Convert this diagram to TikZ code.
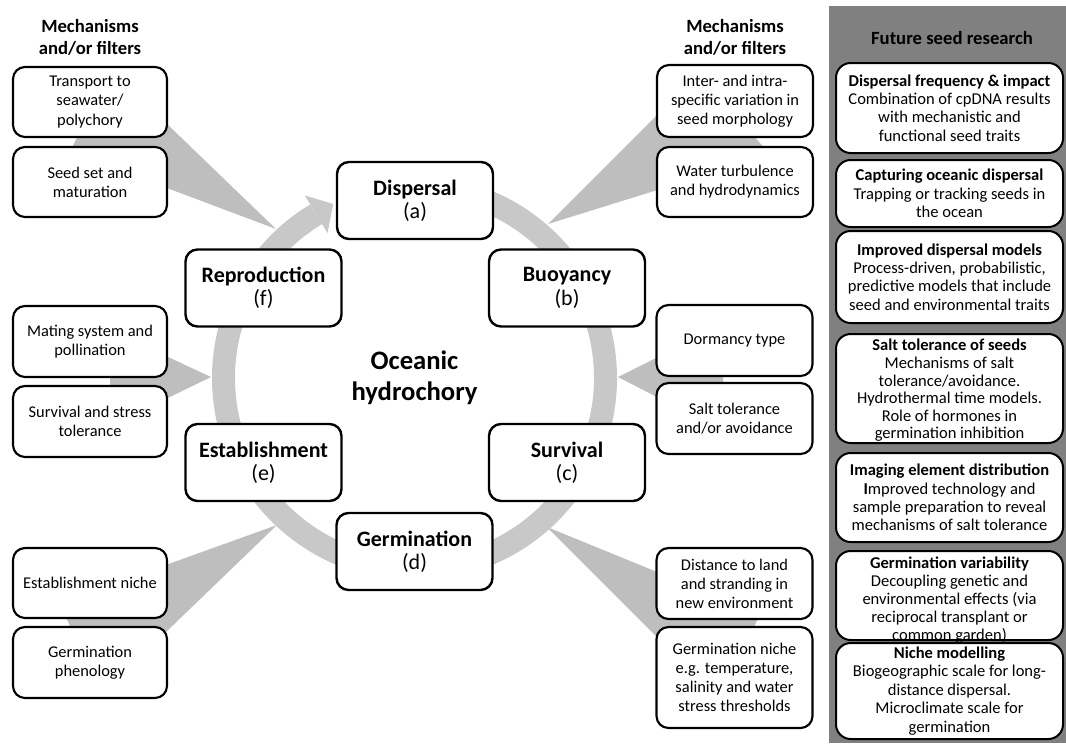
\documentclass[tikz,border=0pt]{standalone}
\usepackage{fontspec}
\setmainfont{Carlito}
\usetikzlibrary{calc}
\definecolor{ringgray}{RGB}{200,200,200}
\definecolor{wedgegray}{RGB}{190,190,190}
\definecolor{panelgray}{RGB}{128,128,128}
\begin{document}
\begin{tikzpicture}[x=0.75pt,y=-0.75pt,
  mbox/.style={draw=black, line width=1.6pt, rounded corners=9pt, fill=white, align=center, inner sep=0pt, minimum width=115.5pt, font=\fontsize{12.3}{14.3}\selectfont},
  rbox/.style={mbox, minimum width=117pt},
  sbox/.style={draw=black, line width=1.8pt, rounded corners=9pt, fill=white, align=center, inner sep=0pt, minimum width=117pt, minimum height=57.75pt, font=\fontsize{16.5}{17.5}\selectfont},
  pbox/.style={draw=black, line width=1.5pt, rounded corners=11pt, fill=white, align=center, inner sep=0pt, minimum width=170.25pt, font=\fontsize{12.4}{13.8}\selectfont},
  ptext/.style={align=center, inner sep=0pt, font=\fontsize{12.4}{13.5}\selectfont},
  head/.style={align=center, font=\fontsize{14}{16.5}\selectfont\bfseries},
  wedge/.style={fill=wedgegray, draw=none},
  ring/.style={draw=ringgray, line width=17.25pt}
]
\useasboundingbox (0,0) rectangle (1066,743);
\fill[white] (0,0) rectangle (1066,743);
\fill[panelgray] (829,6) rectangle (1066,743);

% wedges
\coordinate (w1a) at (276,229); \coordinate (w1b) at (111,70); \coordinate (w1c) at (70,151.5);
\coordinate (w2a) at (548,224); \coordinate (w2b) at (700,72); \coordinate (w2c) at (770,155);
\coordinate (w3a) at (211,377); \coordinate (w3b) at (110,330); \coordinate (w3c) at (110,426);
\coordinate (w4a) at (618,377); \coordinate (w4b) at (723,324.5); \coordinate (w4c) at (723,431);
\coordinate (w5a) at (277,525); \coordinate (w5b) at (60,603); \coordinate (w5c) at (100,695.6);
\coordinate (w6a) at (547,527); \coordinate (w6b) at (760,614); \coordinate (w6c) at (720,700);
\fill[wedge] (w1a) -- (w1b) -- (w1c) -- cycle;
\fill[wedge] (w2a) -- (w2b) -- (w2c) -- cycle;
\fill[wedge] (w3a) -- (w3b) -- (w3c) -- cycle;
\fill[wedge] (w4a) -- (w4b) -- (w4c) -- cycle;
\fill[wedge] (w5a) -- (w5b) -- (w5c) -- cycle;
\fill[wedge] (w6a) -- (w6b) -- (w6c) -- cycle;

% ring with arrow
\coordinate (C) at (414.5,378);
\draw[ring] ($(C)+(-95:191)$) arc[start angle=-95, end angle=239, radius=191];
\coordinate (h1) at (304.8,195.4); \coordinate (h2) at (333.2,204); \coordinate (h3) at (327.5,233.1);
\fill[ringgray] (h1) -- (h2) -- (h3) -- cycle;

% headers
\node[head] (hl) at (90,37) {Mechanisms\\and/or filters};
\node[head] (hr) at (735,37) {Mechanisms\\and/or filters};
\node[font=\fontsize{14}{16}\selectfont\bfseries] (hp) at (952,38) {Future seed research};

% left mechanism boxes
\node[mbox, minimum height=52.5pt] (m1) at (90,102) {Transport to\\seawater/\\polychory};
\node[mbox, minimum height=52.5pt] (m2) at (90,182) {Seed set and\\maturation};
\node[mbox, minimum height=53.25pt] (m3) at (90,341.5) {Mating system and\\pollination};
\node[mbox, minimum height=53.25pt] (m4) at (90,421.5) {Survival and stress\\tolerance};
\node[mbox, minimum height=52.5pt] (m5) at (90,583) {Establishment niche};
\node[mbox, minimum height=53.25pt] (m6) at (90,662.5) {Germination\\phenology};

% right mechanism boxes
\node[rbox, minimum height=54pt] (r1) at (735,101) {Inter- and intra-\\specific variation in\\seed morphology};
\node[rbox, minimum height=52.5pt] (r2) at (735,182) {Water turbulence\\and hydrodynamics};
\node[rbox, minimum height=53.25pt] (r3) at (734.5,340.5) {Dormancy type};
\node[rbox, minimum height=53.25pt] (r4) at (734.5,418.5) {Salt tolerance\\and/or avoidance};
\node[rbox, minimum height=53.25pt] (r5) at (734.5,583.5) {Distance to land\\and stranding in\\new environment};
\node[rbox, minimum height=75.75pt] (r6) at (734.5,677.5) {Germination niche\\e.g. temperature,\\salinity and water\\stress thresholds};

% stage boxes
\node[sbox] (disp) at (415,200.5) {\textbf{Dispersal}\\(a)};
\node[sbox] (repr) at (263.5,288) {\textbf{Reproduction}\\(f)};
\node[sbox] (buoy) at (567,288) {\textbf{Buoyancy}\\(b)};
\node[sbox] (esta) at (263.5,462.5) {\textbf{Establishment}\\(e)};
\node[sbox] (surv) at (567,462.5) {\textbf{Survival}\\(c)};
\node[sbox] (germ) at (414.5,551.5) {\textbf{Germination}\\(d)};
\node[align=center, font=\fontsize{20}{23.5}\selectfont\bfseries] (ocean) at (414.5,378) {Oceanic\\hydrochory};

% panel boxes
\node[pbox, minimum height=67.5pt] (p1) at (949.5,108) {\textbf{Dispersal frequency \& impact}\\Combination of cpDNA results\\with mechanistic and\\functional seed traits};
\node[pbox, minimum height=50.25pt] (p2) at (949.5,193.5) {\textbf{Capturing oceanic dispersal}\\Trapping or tracking seeds in\\the ocean};
\node[pbox, minimum height=69pt] (p3) at (949.5,277) {\textbf{Improved dispersal models}\\Process-driven, probabilistic,\\predictive models that include\\seed and environmental traits};
\node[pbox, minimum height=81.75pt] (p4) at (949.5,388.5) {};
\node[ptext, font=\fontsize{12.4}{13.2}\selectfont] (p4t) at ($(p4.center)+(0,2)$) {\textbf{Salt tolerance of seeds}\\Mechanisms of salt\\tolerance/avoidance.\\Hydrothermal time models.\\Role of hormones in\\germination inhibition};
\node[pbox, minimum height=66.75pt] (p5) at (949.5,497.5) {\textbf{Imaging element distribution}\\\textbf{I}mproved technology and\\sample preparation to reveal\\mechanisms of salt tolerance};
\node[pbox, minimum height=66.75pt] (p6) at (949.5,595.5) {};
\node[ptext] (p6t) at ($(p6.center)+(0,5)$) {\textbf{Germination variability}\\Decoupling genetic and\\environmental effects (via\\reciprocal transplant or\\common garden)};
\node[pbox, minimum height=72pt] (p7) at (949.5,691) {\textbf{Niche modelling}\\Biogeographic scale for long-\\distance dispersal.\\Microclimate scale for\\germination};
\end{tikzpicture}
\end{document}
